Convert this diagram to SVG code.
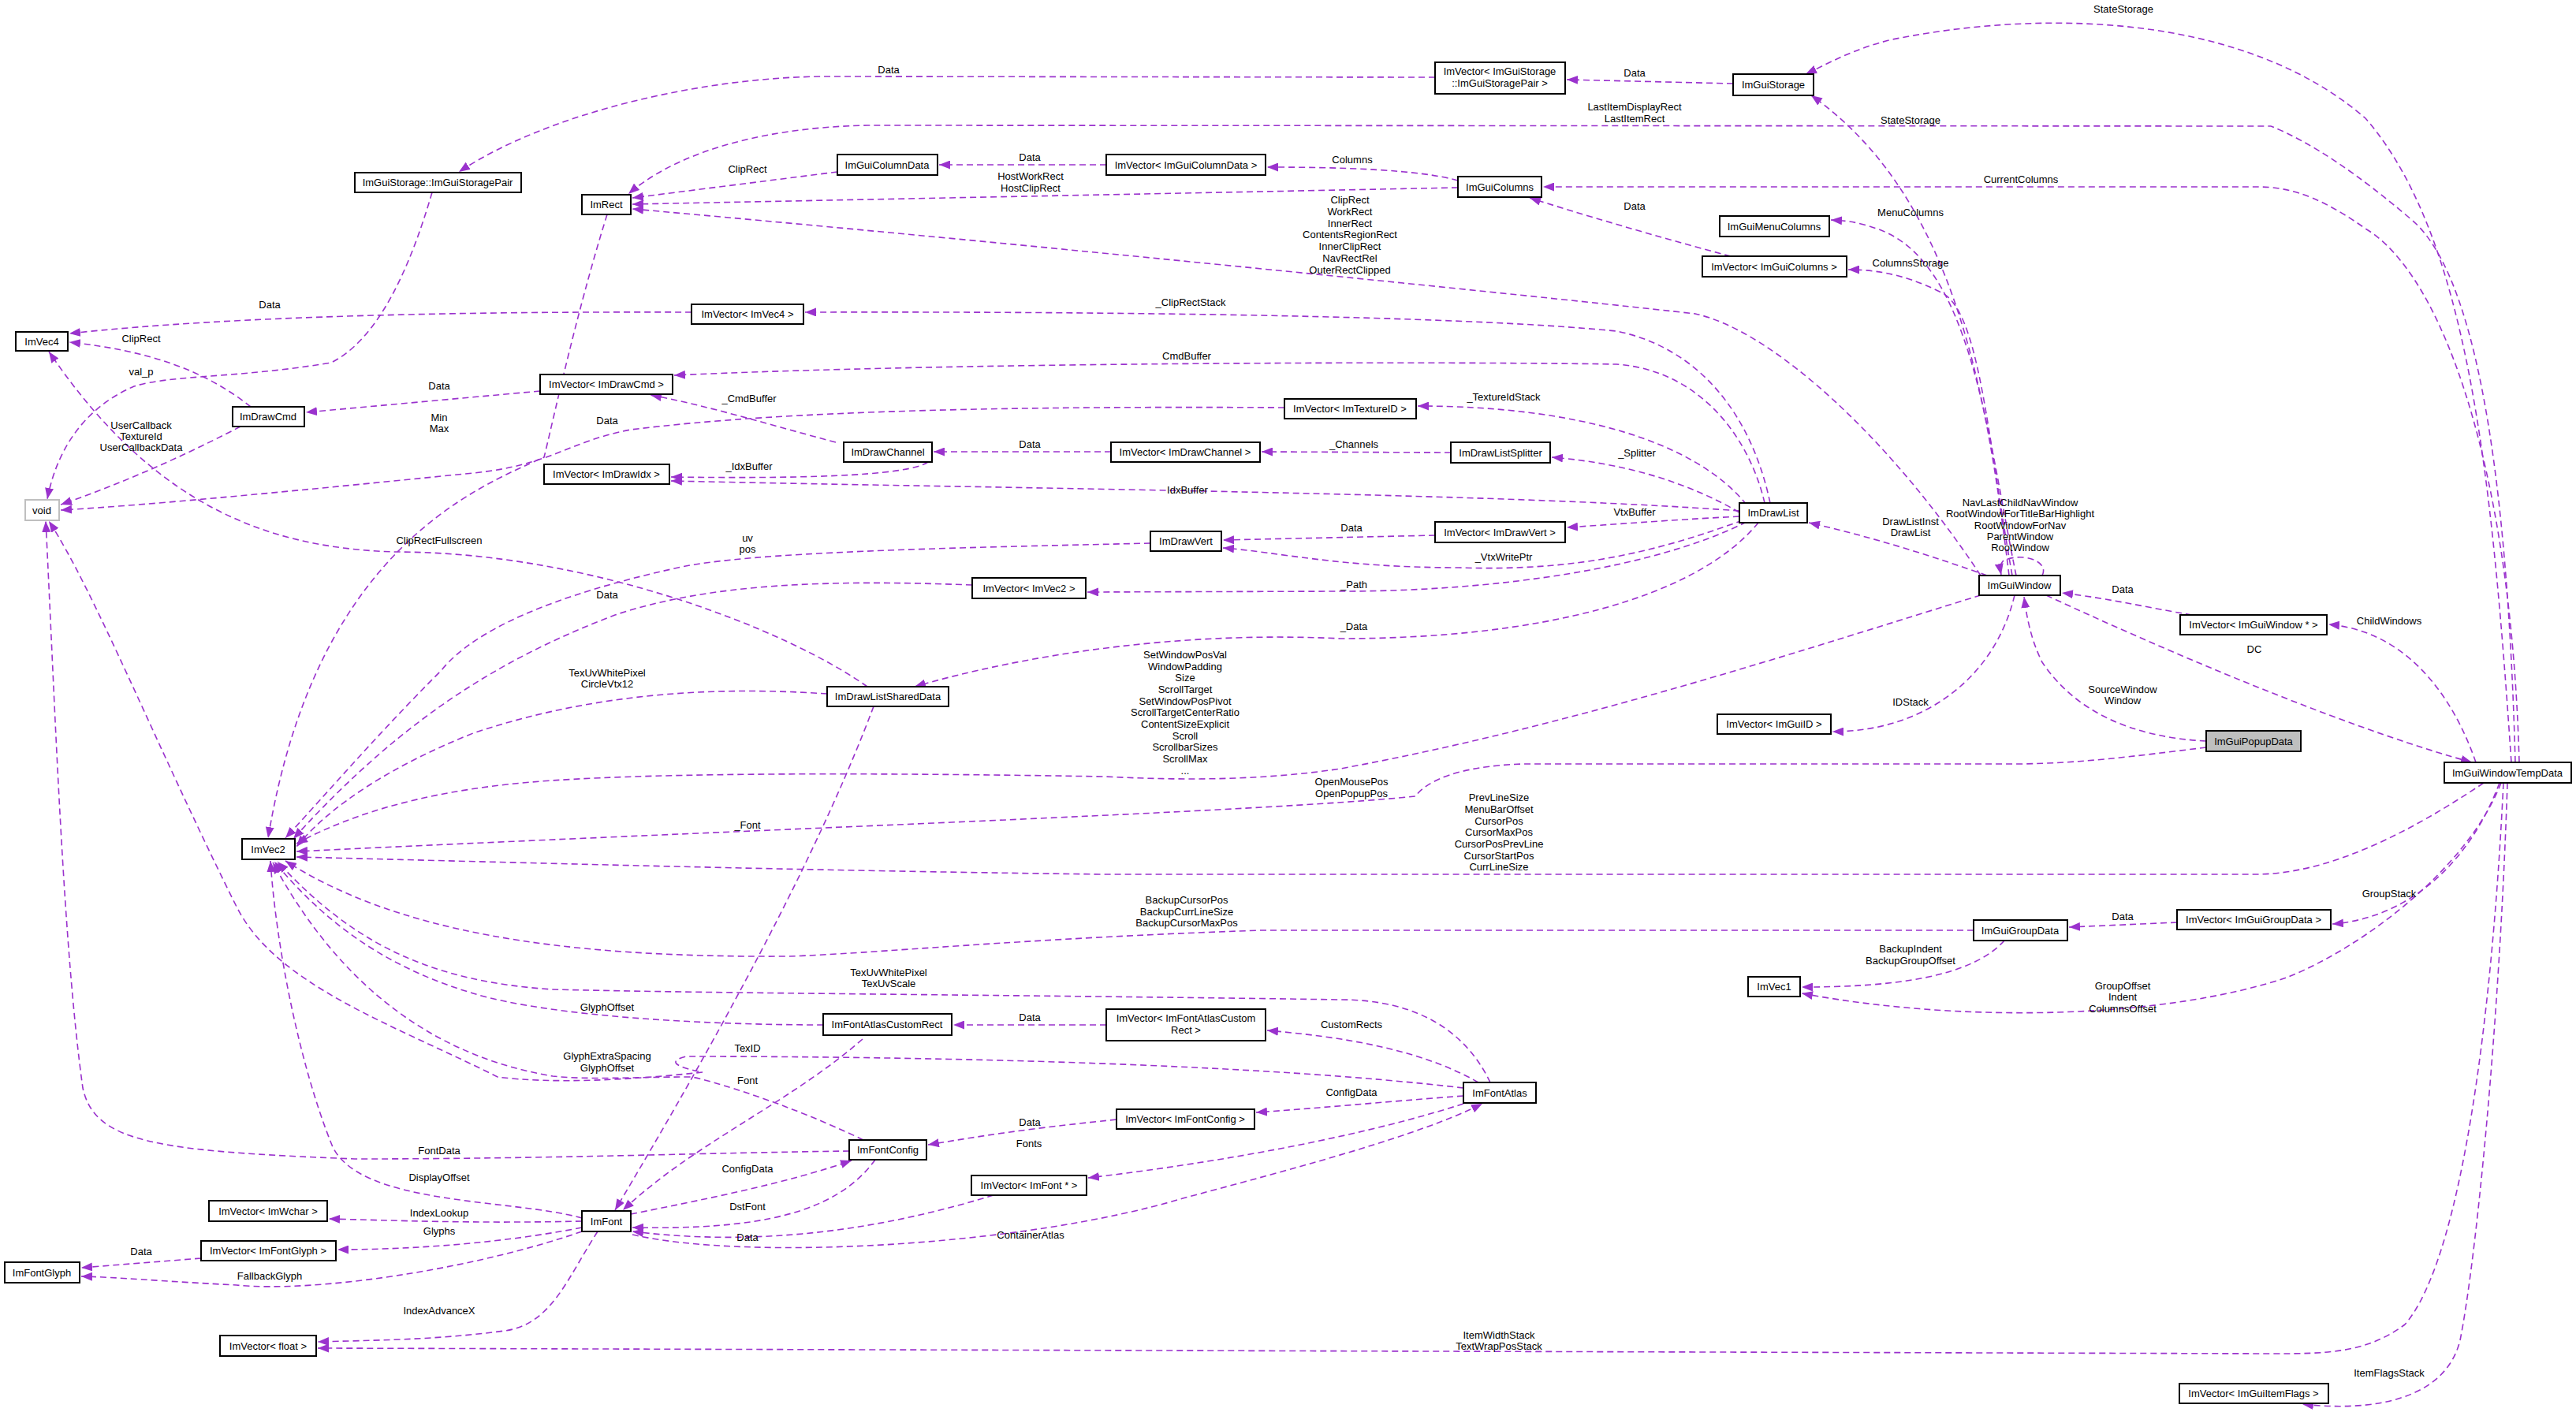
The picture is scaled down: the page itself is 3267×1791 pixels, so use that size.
<svg xmlns="http://www.w3.org/2000/svg" width="3267" height="1791" viewBox="0 0 3267 1791">
<style>
.n rect{fill:#fff;stroke:#000;stroke-width:2}
.g rect{fill:#bfbfbf;stroke:#000;stroke-width:2}
.v rect{fill:#fff;stroke:#bfbfbf;stroke-width:2}
text{font-family:"Liberation Sans",Arial,sans-serif;font-size:13px;fill:#000;text-anchor:middle}
#edges path{fill:none;stroke:#9a32cd;stroke-width:1.6;stroke-dasharray:8,5;marker-end:url(#a)}
</style>
<defs><marker id="a" markerUnits="userSpaceOnUse" markerWidth="15" markerHeight="11" refX="14" refY="5.5" orient="auto"><path d="M0,0L14,5.5L0,11z" fill="#9a32cd"/></marker></defs>
<rect width="3267" height="1791" fill="#fff"/>
<g id="edges">
<path d="M1820,98 L1050,97 C900,97 700,140 582,218"/>
<path d="M2198,106 L1987,101"/>
<path d="M3185,967 C3160,600 3130,300 3000,150 C2850,20 2600,10 2400,50 C2350,62 2320,80 2290,94"/>
<path d="M2548,730 C2520,500 2480,250 2297,121"/>
<path d="M3190,967 C3180,600 3140,350 3060,280 C2990,220 2930,180 2880,160 L1100,159 C950,162 850,200 797,246"/>
<path d="M1062,218 L802,251"/>
<path d="M1849,238 L802,259"/>
<path d="M2512,730 C2400,560 2250,420 2150,398 C1900,370 1200,300 802,265"/>
<path d="M1403,209 L1191,209"/>
<path d="M1849,229 C1800,215 1700,212 1607,212"/>
<path d="M3195,967 C3185,600 3100,350 3000,290 C2930,240 2890,237 2860,237 L1957,237"/>
<path d="M2195,325 C2100,300 2000,270 1940,251"/>
<path d="M2557,730 C2520,550 2500,330 2380,290 C2355,281 2340,280 2322,279"/>
<path d="M2552,730 C2520,550 2510,390 2460,370 C2410,345 2370,342 2344,342"/>
<path d="M2245,638 C2220,520 2150,440 2050,420 C1850,400 1400,395 1021,396"/>
<path d="M877,396 C600,395 300,400 88,423"/>
<path d="M318,516 C260,470 190,445 88,434"/>
<path d="M548,244 C520,340 480,430 420,460 C300,480 220,475 170,490 C100,520 70,580 60,633"/>
<path d="M305,541 C230,580 150,615 77,640"/>
<path d="M685,496 L388,523"/>
<path d="M2238,638 C2220,560 2160,470 2050,462 C1800,458 1200,460 855,476"/>
<path d="M1060,561 C980,540 900,515 825,501"/>
<path d="M1629,517 C1300,515 1000,520 800,545 C720,560 700,590 600,600 C400,620 200,640 77,647"/>
<path d="M2215,640 C2150,560 2000,515 1798,515"/>
<path d="M1409,573 L1184,573"/>
<path d="M1840,574 L1600,573"/>
<path d="M2206,650 C2120,600 2030,585 1968,580"/>
<path d="M1177,586 C1150,605 1000,607 851,605"/>
<path d="M2206,648 C1900,625 1300,620 851,610"/>
<path d="M1820,679 L1551,685"/>
<path d="M2206,655 C2110,660 2050,665 1987,669"/>
<path d="M2210,660 C2100,700 2000,725 1850,720 C1700,720 1620,700 1551,695"/>
<path d="M1459,689 C1200,695 950,700 860,720 C700,755 600,800 560,850 C480,930 420,1000 362,1063"/>
<path d="M2215,662 C2100,720 1900,750 1700,750 L1379,751"/>
<path d="M1233,742 C1050,735 900,740 780,780 C650,830 520,900 372,1064"/>
<path d="M2230,663 C2150,760 1950,810 1700,810 C1500,800 1300,830 1160,871"/>
<path d="M1100,871 C1000,800 750,700 500,700 C350,695 200,650 62,446"/>
<path d="M1049,880 C900,870 750,880 600,930 C500,970 420,1020 376,1074"/>
<path d="M1108,896 C1050,1050 950,1250 780,1535"/>
<path d="M2512,755 C2300,820 2000,920 1700,975 C1600,990 1500,990 1400,985 C1100,980 850,980 700,990 C550,1000 450,1030 376,1070"/>
<path d="M2798,948 C2700,960 2640,968 2560,969 L1930,969 C1850,972 1810,990 1795,1010 C1600,1030 1000,1050 376,1080"/>
<path d="M3150,993 C3050,1060 2950,1109 2860,1109 L1400,1109 C1000,1104 700,1095 376,1087"/>
<path d="M2503,1180 L1600,1180 C1300,1190 1100,1210 1000,1213 C700,1215 500,1180 362,1092"/>
<path d="M1890,1373 C1860,1310 1800,1268 1700,1268 C1300,1262 900,1260 700,1255 C550,1245 450,1200 352,1093"/>
<path d="M1044,1300 C900,1300 700,1290 600,1260 C500,1230 420,1180 348,1093"/>
<path d="M1403,1300 L1209,1300"/>
<path d="M1875,1373 C1800,1330 1700,1315 1607,1307"/>
<path d="M1856,1380 C1600,1350 1200,1340 870,1340 C850,1345 850,1352 891,1360 C800,1370 700,1375 631,1366 C500,1300 350,1250 300,1150 C200,950 120,750 62,661"/>
<path d="M1095,1446 C1000,1400 900,1370 877,1366 C800,1366 750,1370 701,1365 C550,1340 430,1250 346,1094"/>
<path d="M1094,1318 C1000,1400 880,1450 790,1535"/>
<path d="M1077,1460 C900,1462 700,1470 450,1470 C200,1460 120,1450 105,1380 C80,1200 70,900 58,661"/>
<path d="M1416,1420 C1300,1432 1250,1440 1177,1452"/>
<path d="M1856,1390 C1750,1398 1680,1405 1593,1411"/>
<path d="M800,1540 C900,1520 1000,1500 1080,1472"/>
<path d="M1110,1471 C1060,1540 960,1560 802,1557"/>
<path d="M1856,1400 C1700,1450 1500,1480 1380,1494"/>
<path d="M1260,1516 C1100,1565 950,1580 802,1562"/>
<path d="M802,1566 C950,1600 1300,1580 1500,1520 C1650,1480 1800,1440 1880,1400"/>
<path d="M738,1545 C650,1520 450,1530 420,1450 C380,1350 350,1200 343,1092"/>
<path d="M738,1549 C600,1552 500,1548 417,1546"/>
<path d="M738,1557 C620,1580 500,1585 428,1585"/>
<path d="M255,1596 L103,1608"/>
<path d="M738,1562 C600,1610 400,1640 300,1630 C200,1625 150,1620 103,1619"/>
<path d="M758,1562 C720,1620 700,1680 640,1688 C550,1700 470,1700 403,1702"/>
<path d="M3175,993 C3160,1300 3120,1600 3050,1680 C3000,1717 2950,1717 2880,1717 L403,1710"/>
<path d="M2520,730 C2450,705 2370,680 2294,663"/>
<path d="M2590,730 C2600,710 2560,700 2540,712 C2535,718 2537,724 2538,729"/>
<path d="M2780,780 C2720,770 2680,760 2615,752"/>
<path d="M3140,967 C3110,880 3050,800 2953,792"/>
<path d="M2595,755 C2800,850 3000,930 3135,967"/>
<path d="M2555,755 C2530,860 2440,928 2324,928"/>
<path d="M2798,940 C2700,935 2630,900 2590,840 C2575,810 2570,780 2567,757"/>
<path d="M2761,1170 L2624,1176"/>
<path d="M3170,993 C3130,1100 3050,1165 2958,1172"/>
<path d="M2542,1193 C2500,1240 2400,1252 2285,1252"/>
<path d="M3172,993 C3130,1100 3000,1200 2900,1240 C2750,1290 2500,1300 2285,1260"/>
<path d="M3180,993 C3170,1300 3140,1600 3120,1700 C3100,1780 3000,1790 2920,1781"/>
<path d="M770,272 C730,400 700,540 690,580 C600,620 400,700 340,1063"/>
</g>
<g id="n1" class="n"><rect x="450" y="219" width="211" height="25"/><text x="555" y="236">ImGuiStorage::ImGuiStoragePair</text></g>
<g id="n2" class="n"><rect x="738" y="247" width="62" height="25"/><text x="769" y="264">ImRect</text></g>
<g id="n3" class="n"><rect x="20" y="421" width="66" height="24"/><text x="53" y="438">ImVec4</text></g>
<g id="n4" class="n"><rect x="295" y="516" width="91" height="25"/><text x="340" y="533">ImDrawCmd</text></g>
<g id="n5" class="v"><rect x="32" y="634" width="43" height="26"/><text x="53" y="652">void</text></g>
<g id="n6" class="n"><rect x="685" y="475" width="168" height="25"/><text x="769" y="492">ImVector&lt; ImDrawCmd &gt;</text></g>
<g id="n7" class="n"><rect x="690" y="589" width="159" height="25"/><text x="769" y="606">ImVector&lt; ImDrawIdx &gt;</text></g>
<g id="n8" class="n"><rect x="877" y="386" width="142" height="25"/><text x="948" y="403">ImVector&lt; ImVec4 &gt;</text></g>
<g id="n9" class="n"><rect x="1820" y="79" width="165" height="40"/><text x="1902" y="95">ImVector&lt; ImGuiStorage</text><text x="1902" y="110">::ImGuiStoragePair &gt;</text></g>
<g id="n10" class="n"><rect x="1062" y="196" width="127" height="26"/><text x="1125" y="214">ImGuiColumnData</text></g>
<g id="n11" class="n"><rect x="1403" y="196" width="202" height="26"/><text x="1504" y="214">ImVector&lt; ImGuiColumnData &gt;</text></g>
<g id="n12" class="n"><rect x="1849" y="224" width="106" height="26"/><text x="1902" y="242">ImGuiColumns</text></g>
<g id="n13" class="n"><rect x="1629" y="506" width="167" height="25"/><text x="1712" y="523">ImVector&lt; ImTextureID &gt;</text></g>
<g id="n14" class="n"><rect x="1070" y="561" width="112" height="25"/><text x="1126" y="578">ImDrawChannel</text></g>
<g id="n15" class="n"><rect x="1409" y="561" width="189" height="25"/><text x="1503" y="578">ImVector&lt; ImDrawChannel &gt;</text></g>
<g id="n16" class="n"><rect x="1840" y="561" width="126" height="26"/><text x="1903" y="579">ImDrawListSplitter</text></g>
<g id="n17" class="n"><rect x="1459" y="674" width="90" height="25"/><text x="1504" y="691">ImDrawVert</text></g>
<g id="n18" class="n"><rect x="1820" y="662" width="165" height="26"/><text x="1902" y="680">ImVector&lt; ImDrawVert &gt;</text></g>
<g id="n19" class="n"><rect x="1233" y="733" width="144" height="26"/><text x="1305" y="751">ImVector&lt; ImVec2 &gt;</text></g>
<g id="n20" class="n"><rect x="1049" y="871" width="154" height="25"/><text x="1126" y="888">ImDrawListSharedData</text></g>
<g id="n21" class="n"><rect x="2198" y="94" width="102" height="27"/><text x="2249" y="112">ImGuiStorage</text></g>
<g id="n22" class="n"><rect x="2181" y="274" width="139" height="26"/><text x="2250" y="292">ImGuiMenuColumns</text></g>
<g id="n23" class="n"><rect x="2159" y="325" width="183" height="26"/><text x="2250" y="343">ImVector&lt; ImGuiColumns &gt;</text></g>
<g id="n24" class="n"><rect x="2206" y="638" width="86" height="25"/><text x="2249" y="655">ImDrawList</text></g>
<g id="n25" class="n"><rect x="2510" y="730" width="103" height="25"/><text x="2561" y="747">ImGuiWindow</text></g>
<g id="n26" class="n"><rect x="2765" y="780" width="186" height="25"/><text x="2858" y="797">ImVector&lt; ImGuiWindow * &gt;</text></g>
<g id="n27" class="n"><rect x="307" y="1064" width="67" height="26"/><text x="340" y="1082">ImVec2</text></g>
<g id="n28" class="n"><rect x="738" y="1536" width="62" height="26"/><text x="769" y="1554">ImFont</text></g>
<g id="n29" class="n"><rect x="265" y="1523" width="150" height="26"/><text x="340" y="1541">ImVector&lt; ImWchar &gt;</text></g>
<g id="n30" class="n"><rect x="255" y="1574" width="171" height="25"/><text x="340" y="1591">ImVector&lt; ImFontGlyph &gt;</text></g>
<g id="n31" class="n"><rect x="6" y="1601" width="95" height="26"/><text x="53" y="1619">ImFontGlyph</text></g>
<g id="n32" class="n"><rect x="279" y="1694" width="122" height="26"/><text x="340" y="1712">ImVector&lt; float &gt;</text></g>
<g id="n33" class="n"><rect x="1044" y="1286" width="163" height="27"/><text x="1125" y="1304">ImFontAtlasCustomRect</text></g>
<g id="n34" class="n"><rect x="1403" y="1280" width="202" height="40"/><text x="1504" y="1296">ImVector&lt; ImFontAtlasCustom</text><text x="1504" y="1311">Rect &gt;</text></g>
<g id="n35" class="n"><rect x="1856" y="1373" width="92" height="26"/><text x="1902" y="1391">ImFontAtlas</text></g>
<g id="n36" class="n"><rect x="1416" y="1407" width="175" height="25"/><text x="1503" y="1424">ImVector&lt; ImFontConfig &gt;</text></g>
<g id="n37" class="n"><rect x="1077" y="1446" width="98" height="25"/><text x="1126" y="1463">ImFontConfig</text></g>
<g id="n38" class="n"><rect x="1232" y="1491" width="146" height="25"/><text x="1305" y="1508">ImVector&lt; ImFont * &gt;</text></g>
<g id="n39" class="n"><rect x="2178" y="906" width="144" height="25"/><text x="2250" y="923">ImVector&lt; ImGuiID &gt;</text></g>
<g id="n40" class="g"><rect x="2798" y="927" width="120" height="26"/><text x="2858" y="945">ImGuiPopupData</text></g>
<g id="n41" class="n"><rect x="3100" y="967" width="161" height="26"/><text x="3180" y="985">ImGuiWindowTempData</text></g>
<g id="n42" class="n"><rect x="2503" y="1167" width="119" height="26"/><text x="2562" y="1185">ImGuiGroupData</text></g>
<g id="n43" class="n"><rect x="2761" y="1154" width="195" height="25"/><text x="2858" y="1171">ImVector&lt; ImGuiGroupData &gt;</text></g>
<g id="n44" class="n"><rect x="2217" y="1239" width="66" height="25"/><text x="2250" y="1256">ImVec1</text></g>
<g id="n45" class="n"><rect x="2764" y="1755" width="189" height="25"/><text x="2858" y="1772">ImVector&lt; ImGuiItemFlags &gt;</text></g>
<g id="labels">
<text x="1127" y="93">Data</text>
<text x="2073" y="97">Data</text>
<text x="2693" y="16">StateStorage</text>
<text x="2423" y="157">StateStorage</text>
<text x="2073" y="140">LastItemDisplayRect</text><text x="2073" y="155">LastItemRect</text>
<text x="948" y="219">ClipRect</text>
<text x="1307" y="228">HostWorkRect</text><text x="1307" y="243">HostClipRect</text>
<text x="1712" y="258">ClipRect</text><text x="1712" y="273">WorkRect</text><text x="1712" y="288">InnerRect</text><text x="1712" y="302">ContentsRegionRect</text><text x="1712" y="317">InnerClipRect</text><text x="1712" y="332">NavRectRel</text><text x="1712" y="347">OuterRectClipped</text>
<text x="1306" y="204">Data</text>
<text x="1715" y="207">Columns</text>
<text x="2563" y="232">CurrentColumns</text>
<text x="2073" y="266">Data</text>
<text x="2423" y="274">MenuColumns</text>
<text x="2423" y="338">ColumnsStorage</text>
<text x="1510" y="388">_ClipRectStack</text>
<text x="342" y="391">Data</text>
<text x="179" y="434">ClipRect</text>
<text x="179" y="476">val_p</text>
<text x="179" y="544">UserCallback</text><text x="179" y="558">TextureId</text><text x="179" y="572">UserCallbackData</text>
<text x="557" y="494">Data</text>
<text x="1505" y="456">CmdBuffer</text>
<text x="950" y="510">_CmdBuffer</text>
<text x="770" y="538">Data</text>
<text x="1907" y="508">_TextureIdStack</text>
<text x="1306" y="568">Data</text>
<text x="1717" y="568">_Channels</text>
<text x="2076" y="579">_Splitter</text>
<text x="950" y="596">_IdxBuffer</text>
<text x="1506" y="626">IdxBuffer</text>
<text x="1714" y="674">Data</text>
<text x="2073" y="654">VtxBuffer</text>
<text x="1907" y="711">_VtxWritePtr</text>
<text x="948" y="687">uv</text><text x="948" y="701">pos</text>
<text x="1717" y="746">_Path</text>
<text x="770" y="759">Data</text>
<text x="1717" y="799">_Data</text>
<text x="557" y="690">ClipRectFullscreen</text>
<text x="770" y="858">TexUvWhitePixel</text><text x="770" y="872">CircleVtx12</text>
<text x="948" y="1051">_Font</text>
<text x="1503" y="835">SetWindowPosVal</text><text x="1503" y="850">WindowPadding</text><text x="1503" y="864">Size</text><text x="1503" y="879">ScrollTarget</text><text x="1503" y="894">SetWindowPosPivot</text><text x="1503" y="908">ScrollTargetCenterRatio</text><text x="1503" y="923">ContentSizeExplicit</text><text x="1503" y="938">Scroll</text><text x="1503" y="952">ScrollbarSizes</text><text x="1503" y="967">ScrollMax</text><text x="1503" y="982">...</text>
<text x="1714" y="996">OpenMousePos</text><text x="1714" y="1011">OpenPopupPos</text>
<text x="1901" y="1016">PrevLineSize</text><text x="1901" y="1031">MenuBarOffset</text><text x="1901" y="1046">CursorPos</text><text x="1901" y="1060">CursorMaxPos</text><text x="1901" y="1075">CursorPosPrevLine</text><text x="1901" y="1090">CursorStartPos</text><text x="1901" y="1104">CurrLineSize</text>
<text x="1505" y="1146">BackupCursorPos</text><text x="1505" y="1161">BackupCurrLineSize</text><text x="1505" y="1175">BackupCursorMaxPos</text>
<text x="1127" y="1238">TexUvWhitePixel</text><text x="1127" y="1252">TexUvScale</text>
<text x="770" y="1282">GlyphOffset</text>
<text x="1306" y="1295">Data</text>
<text x="1714" y="1304">CustomRects</text>
<text x="948" y="1334">TexID</text>
<text x="770" y="1344">GlyphExtraSpacing</text><text x="770" y="1359">GlyphOffset</text>
<text x="948" y="1375">Font</text>
<text x="557" y="1464">FontData</text>
<text x="1306" y="1428">Data</text>
<text x="1714" y="1390">ConfigData</text>
<text x="948" y="1487">ConfigData</text>
<text x="948" y="1535">DstFont</text>
<text x="1305" y="1455">Fonts</text>
<text x="948" y="1574">Data</text>
<text x="1307" y="1571">ContainerAtlas</text>
<text x="557" y="1498">DisplayOffset</text>
<text x="557" y="1543">IndexLookup</text>
<text x="557" y="1566">Glyphs</text>
<text x="179" y="1592">Data</text>
<text x="342" y="1623">FallbackGlyph</text>
<text x="557" y="1667">IndexAdvanceX</text>
<text x="1901" y="1698">ItemWidthStack</text><text x="1901" y="1712">TextWrapPosStack</text>
<text x="2423" y="666">DrawListInst</text><text x="2423" y="680">DrawList</text>
<text x="2562" y="642">NavLastChildNavWindow</text><text x="2562" y="656">RootWindowForTitleBarHighlight</text><text x="2562" y="671">RootWindowForNav</text><text x="2562" y="685">ParentWindow</text><text x="2562" y="699">RootWindow</text>
<text x="2692" y="752">Data</text>
<text x="3030" y="792">ChildWindows</text>
<text x="2859" y="828">DC</text>
<text x="2423" y="895">IDStack</text>
<text x="2692" y="879">SourceWindow</text><text x="2692" y="893">Window</text>
<text x="2692" y="1167">Data</text>
<text x="3030" y="1138">GroupStack</text>
<text x="2423" y="1208">BackupIndent</text><text x="2423" y="1223">BackupGroupOffset</text>
<text x="2692" y="1255">GroupOffset</text><text x="2692" y="1269">Indent</text><text x="2692" y="1284">ColumnsOffset</text>
<text x="3030" y="1746">ItemFlagsStack</text>
<text x="557" y="534">Min</text><text x="557" y="548">Max</text>
</g>
</svg>
